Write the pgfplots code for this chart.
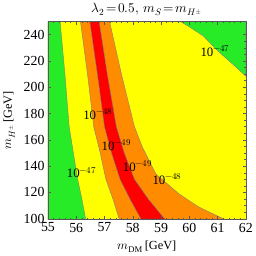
\documentclass[border=0pt]{standalone}
\usepackage{pgfplots}
\pgfplotsset{compat=1.18}
\usepackage{fontspec}
\setmainfont{Liberation Serif}
\usepackage{unicode-math}
\setmathfont{Latin Modern Math}
\definecolor{cgreen}{RGB}{40,235,40}
\definecolor{cyellow}{RGB}{255,255,0}
\definecolor{corange}{RGB}{255,140,0}
\definecolor{cred}{RGB}{255,0,0}
\begin{document}
\begin{tikzpicture}
\begin{axis}[
  scale only axis,
  width=200pt, height=200pt,
  xmin=55, xmax=62, ymin=99.5, ymax=250,
  xtick={55,56,...,62},
  ytick={100,120,...,240},
  minor x tick num=4,
  minor y tick num=3,
  tick align=inside,
  major tick length=3pt, minor tick length=1.5pt,
  tick style={gray!70!black, thin},
  axis line style={gray!70!black},
  axis on top,
  tick label style={font=\fontsize{14}{14}\selectfont},
  /pgf/number format/assume math mode=true,
  xlabel={$m_{\mathrm{DM}}\,$[GeV]},
  ylabel={$m_{H^{\pm}}\,$[GeV]},
  label style={font=\fontsize{12.5}{13}\selectfont},
  xlabel style={yshift=-2pt},
  ylabel style={yshift=2pt},
  title={$\lambda_2\!=\!0.5,\, m_S\!=\!m_{H^{\pm}}$},
  title style={font=\fontsize{13.5}{14}\selectfont, yshift=-4pt},
  clip=true,
]
% background yellow
\addplot[fill=cyellow, draw=none] coordinates {(55,99) (62,99) (62,250) (55,250)} \closedcycle;
% left green region
\addplot[fill=cgreen, draw=black!50, thin] coordinates {
(55,250) (55.43,250) (55.6,210) (55.75,170) (55.9,150) (56.05,130) (56.2,115) (56.34,99) (55,99)} -- cycle;
% top-right green region
\addplot[fill=cgreen, draw=black!50, thin] coordinates {
(59.69,250) (60.0,246) (60.5,239) (60.9,230) (61.15,225) (61.62,216) (62,208.5) (62,250)} -- cycle;
% orange band
\addplot[fill=corange, draw=black!50, thin] coordinates {
(56.15,250) (56.4,210) (56.62,170) (56.85,150) (57.05,130) (57.3,115) (57.53,99)
(61.25,99) (61.2,100) (60.33,109) (59.63,119) (58.82,134) (58.35,154) (58.06,170) (57.6,210) (57.18,250)} -- cycle;
% red band
\addplot[fill=cred, draw=black!50, thin] coordinates {
(56.48,250) (56.75,210) (57.0,170) (57.25,150) (57.55,130) (57.9,115) (58.31,99)
(59.16,99) (58.55,115) (58.06,130) (57.7,150) (57.42,170) (57.1,210) (56.81,250)} -- cycle;
% contour labels
\node[font=\fontsize{13}{13}\selectfont] at (axis cs:60.92,227.5) {10$^{-47}$};
\node[font=\fontsize{13}{13}\selectfont] at (axis cs:56.77,179.9) {10$^{-48}$};
\node[font=\fontsize{13}{13}\selectfont] at (axis cs:57.42,156.3) {10$^{-49}$};
\node[font=\fontsize{13}{13}\selectfont] at (axis cs:58.17,140.1) {10$^{-49}$};
\node[font=\fontsize{13}{13}\selectfont] at (axis cs:59.22,130) {10$^{-48}$};
\node[font=\fontsize{13}{13}\selectfont] at (axis cs:56.19,135.1) {10$^{-47}$};
\end{axis}
\path ([xshift=9pt]current axis.south east);
\end{tikzpicture}
\end{document}
